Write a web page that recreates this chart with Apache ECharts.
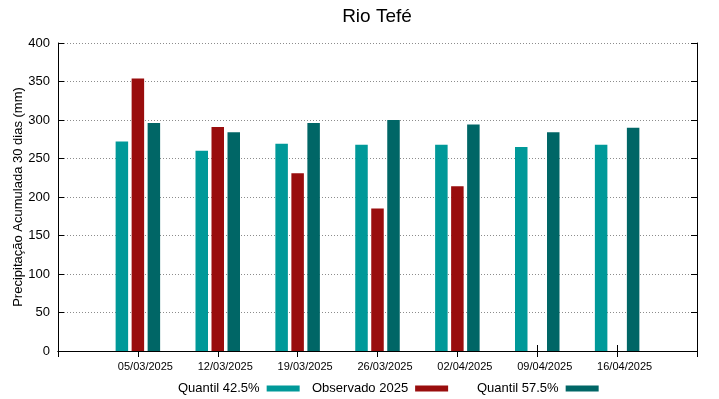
<!DOCTYPE html>
<html>
<head>
<meta charset="utf-8">
<script src="https://cdn.jsdelivr.net/npm/echarts@6/dist/echarts.min.js"></script>
<style>
  html, body { margin: 0; padding: 0; background: #fff; }
  #chart { width: 719px; height: 399px; }
</style>
</head>
<body>
<div id="chart"></div>
<script>
// semanas (a primeira e a última posição ficam vazias, como no gráfico original)
var datas = ['', '05/03/2025', '12/03/2025', '19/03/2025', '26/03/2025', '02/04/2025', '09/04/2025', '16/04/2025', ''];
var quantil425 = [null, 272, 260, 269, 268, 268, 265, 268, null];
var observado = [null, 354, 291, 231, 185, 214, null, null, null];
var quantil575 = [null, 296, 284, 296, 300, 294, 284, 290, null];
var yTicks = [0, 400, 50];

var cores = { q425: '#009999', obs: '#990d0d', q575: '#006666' };
var fonte = 'Liberation Sans';

var chart = echarts.init(document.getElementById('chart'));

function legenda(nome, x) {
	return {
		data: [nome],
		left: x,
		top: 382,
		padding: 0,
		align: 'right',
		itemWidth: 33,
		itemHeight: 6,
		itemGap: 0,
		icon: 'rect',
		selectedMode: false,
		textStyle: { fontFamily: fonte, fontSize: 13, color: '#000', padding: [0, 2, 0, 0] }
	};
}

function serie(nome, dados, cor) {
	return {
		name: nome,
		type: 'bar',
		data: dados,
		barWidth: 12.5,
		barGap: '28%',
		itemStyle: { color: cor },
		xAxisIndex: 0,
		yAxisIndex: 0
	};
}

var option = {
	animation: false,
	textStyle: { fontFamily: fonte },
	title: {
		text: 'Rio Tefé',
		left: 372,
		top: 2,
		textAlign: 'center',
		textStyle: { fontFamily: fonte, fontSize: 19, fontWeight: 'normal', color: '#000' }
	},
	legend: [
		legenda('Quantil 42.5%', 178),
		legenda('Observado 2025', 312),
		legenda('Quantil 57.5%', 477)
	],
	grid: { left: 58, right: 22, top: 43, bottom: 48, outerBoundsMode: 'none', containLabel: false },
	xAxis: [
		{
			type: 'category',
			data: datas,
			boundaryGap: false,
			axisLine: { lineStyle: { color: '#000', width: 1 } },
			axisTick: { inside: true, length: 6, lineStyle: { color: '#000' } },
			axisLabel: { color: '#000', fontSize: 11, margin: 10, padding: [0, 0, 0, 15], interval: 0 },
			splitLine: { show: false }
		},
		{
			type: 'category',
			position: 'top',
			data: datas,
			boundaryGap: false,
			axisLine: { lineStyle: { color: '#000', width: 1 } },
			axisTick: { inside: true, length: 6, lineStyle: { color: '#000' } },
			axisLabel: { show: false },
			splitLine: { show: false }
		}
	],
	yAxis: [
		{
			type: 'value',
			min: yTicks[0],
			max: yTicks[1],
			interval: yTicks[2],
			name: 'Precipitação Acumulada 30 dias (mm)',
			nameLocation: 'middle',
			nameGap: 33,
			nameMoveOverlap: false,
			nameTextStyle: { fontFamily: fonte, fontSize: 13, color: '#000' },
			axisLine: { show: true, lineStyle: { color: '#000', width: 1 } },
			axisTick: { show: true, inside: true, length: 6, lineStyle: { color: '#000' } },
			axisLabel: { color: '#000', fontSize: 13, margin: 8 },
			splitLine: { show: true, lineStyle: { color: '#8c8c8c', type: [1, 2], width: 1 } }
		},
		{
			type: 'value',
			position: 'right',
			min: yTicks[0],
			max: yTicks[1],
			interval: yTicks[2],
			axisLine: { show: true, lineStyle: { color: '#000', width: 1 } },
			axisTick: { show: true, inside: true, length: 6, lineStyle: { color: '#000' } },
			axisLabel: { show: false },
			splitLine: { show: false }
		}
	],
	series: [
		serie('Quantil 42.5%', quantil425, cores.q425),
		serie('Observado 2025', observado, cores.obs),
		serie('Quantil 57.5%', quantil575, cores.q575)
	]
};

chart.setOption(option);
</script>
</body>
</html>
